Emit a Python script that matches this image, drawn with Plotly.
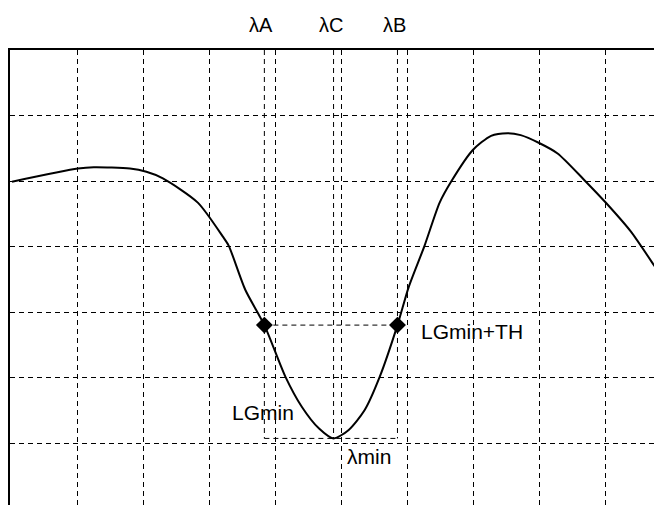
import plotly.graph_objects as go

# loss-gain curve (grid units: one dashed cell = 1)
x_curve = [0, 1.0, 1.24, 1.79, 2.04, 2.29, 2.82, 3.20, 3.29, 3.54, 3.83, 4.15, 4.40, 4.66,
           4.88, 5.11, 5.35, 5.58, 5.85, 6.02, 6.26, 6.49, 6.67, 6.99, 7.27, 7.52, 7.72,
           8.00, 8.28, 8.68, 9.02, 9.39, 9.86, 10.0]
y_curve = [4.99, 5.19, 5.21, 5.19, 5.14, 5.04, 4.67, 4.15, 4.01, 3.34, 2.80, 2.01, 1.55, 1.22,
           1.07, 1.20, 1.50, 2.01, 2.80, 3.38, 4.01, 4.67, 5.00, 5.47, 5.69, 5.73, 5.70,
           5.58, 5.42, 5.02, 4.66, 4.23, 3.54, 3.35]

lam_A, lam_C, lam_B = 3.83, 4.88, 5.85
lg_min = 1.07
lg_th = 2.80
top = 7

lam_labels = ["λA", "λC", "λB"]
lam_pos = [lam_A, lam_C, lam_B]

x_grid = [1, 2, 3, 4, 5, 6, 7, 8, 9]
y_grid = [1, 2, 3, 4, 5, 6]

DASH = "5px,4px"
FONT = "Liberation Sans, Arial, sans-serif"

fig = go.Figure()

# dashed guide lines: verticals at λA, λC, λB and the box between the two markers
guide_x = [lam_A, lam_A, None, lam_C, lam_C, None, lam_B, lam_B, None,
           lam_A, lam_B, None, lam_A, lam_B]
guide_y = [top, lg_min, None, top, lg_min, None, top, lg_min, None,
           lg_th, lg_th, None, lg_min, lg_min]
fig.add_trace(go.Scatter(x=guide_x, y=guide_y, mode="lines",
                         line=dict(color="black", width=1, dash=DASH),
                         hoverinfo="skip", showlegend=False))

fig.add_trace(go.Scatter(x=x_curve, y=y_curve, mode="lines",
                         line=dict(color="black", width=2, shape="spline", smoothing=0.7),
                         showlegend=False))

fig.add_trace(go.Scatter(x=[lam_A, lam_B], y=[lg_th, lg_th], mode="markers",
                         marker=dict(symbol="diamond", size=13, color="black"),
                         showlegend=False))

for txt, xv in zip(lam_labels, lam_pos):
    fig.add_annotation(x=xv, y=1.056, xref="x", yref="paper", text=txt,
                       showarrow=False, xshift=-3, yanchor="middle",
                       font=dict(family=FONT, size=20, color="black"))

fig.add_annotation(x=6.18, y=2.695, text="LGmin+TH", showarrow=False,
                   xanchor="left", yanchor="middle",
                   font=dict(family=FONT, size=21, color="black"))
fig.add_annotation(x=4.31, y=1.47, text="LGmin", showarrow=False,
                   xanchor="right", yanchor="middle",
                   font=dict(family=FONT, size=21, color="black"))
fig.add_annotation(x=5.05, y=0.79, text="λmin", showarrow=False,
                   xanchor="left", yanchor="middle",
                   font=dict(family=FONT, size=21, color="black"))

# the page body has an 8px margin, so the figure itself starts at (8, 8)
fig.update_layout(
    width=654, height=497,
    margin=dict(l=2, r=0, t=42, b=0),
    paper_bgcolor="white", plot_bgcolor="white",
    xaxis=dict(range=[-2 / 66.3, 654 / 66.3], tickmode="array", tickvals=x_grid,
               showticklabels=False,
               showgrid=True, gridcolor="black", gridwidth=1, griddash=DASH,
               zeroline=False, showline=True, linecolor="black", linewidth=2,
               side="top", ticks=""),
    yaxis=dict(range=[top - 455 / 65.5, top], tickmode="array", tickvals=y_grid,
               showticklabels=False,
               showgrid=True, gridcolor="black", gridwidth=1, griddash=DASH,
               zeroline=False, showline=True, linecolor="black", linewidth=2.5,
               ticks=""),
    hovermode=False,
)

fig.write_html("out.html")
